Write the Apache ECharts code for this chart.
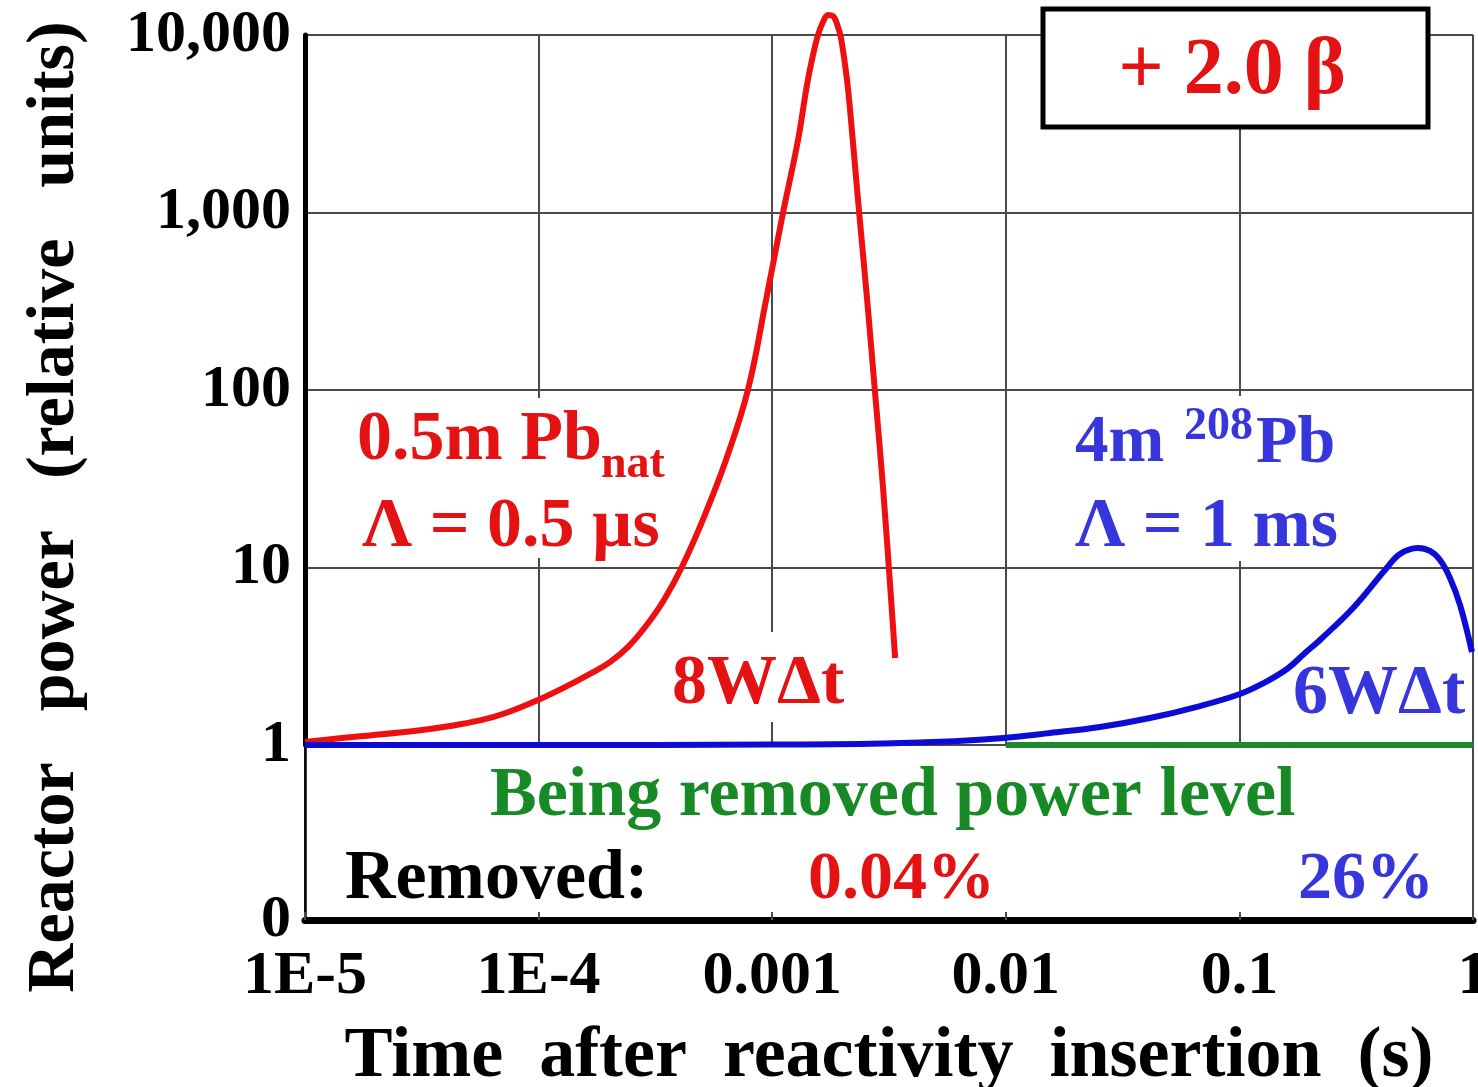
<!DOCTYPE html>
<html>
<head>
<meta charset="utf-8">
<script src="https://cdn.jsdelivr.net/npm/echarts@6/dist/echarts.min.js"></script>
<style>
html,body{margin:0;padding:0;background:#fff;}
#c{width:1478px;height:1087px;}
</style>
</head>
<body>
<div id="c"></div>
<script>
// ---- data ----
const xTickLabels = ['1E-5', '1E-4', '0.001', '0.01', '0.1', '1'];
const yTickLabels = ['0', '1', '10', '100', '1,000', '10,000']; // at 0.1, 1, 10, ... 10000

// 0.5 m Pb_nat, Lambda = 0.5 us
const redTime  = [1e-5, 1.72e-5, 2.93e-5, 4.18e-5, 5.67e-5, 7.18e-5, 1.0e-4, 1.297e-4, 1.69e-4, 2.02e-4, 2.41e-4, 2.88e-4, 3.44e-4, 4.11e-4, 5.11e-4, 6.34e-4, 7.87e-4, 9.41e-4, 1.112e-3, 1.29e-3, 1.409e-3, 1.495e-3, 1.571e-3, 1.650e-3, 1.734e-3, 1.821e-3, 1.894e-3, 1.970e-3, 2.09e-3, 2.174e-3, 2.33e-3, 2.55e-3, 2.75e-3, 2.98e-3, 3.23e-3, 3.36e-3];
const redPower = [1.04, 1.12, 1.20, 1.28, 1.38, 1.51, 1.80, 2.12, 2.55, 2.93, 3.56, 4.68, 6.56, 10.1, 19.3, 40.3, 100, 321, 993, 2560, 5230, 7710, 10000, 11840, 12970, 12790, 11530, 9620, 5580, 3320, 1175, 321, 100, 28.4, 6.56, 3.09];

// 4 m 208Pb, Lambda = 1 ms
const blueTime  = [1e-5, 1e-4, 1e-3, 3e-3, 6e-3, 9.82e-3, 0.01546, 0.0253, 0.0414, 0.0678, 0.1006, 0.1249, 0.1599, 0.1909, 0.2213, 0.3094, 0.4201, 0.4869, 0.5815, 0.6546, 0.7225, 0.797, 0.8797, 0.99];
const bluePower = [1.0, 1.0, 1.005, 1.02, 1.05, 1.095, 1.168, 1.263, 1.419, 1.658, 1.938, 2.207, 2.681, 3.298, 3.905, 5.99, 9.68, 11.91, 12.88, 12.39, 11.02, 8.73, 6.15, 3.34];

// Being removed power level
const greenTime  = [0.01, 1];
const greenPower = [1, 1];

const zip = (a, b) => a.map((v, i) => [v, b[i]]);
const SERIF = '"Liberation Serif", "Times New Roman", serif';
const RED = '#e41212', BLUE_TXT = '#3636dc', GREEN = '#178a25', GRID = '#4a4a4a';

const chart = echarts.init(document.getElementById('c'), null, {renderer: 'canvas'});

function decIdx(v) { return Math.round(Math.log10(v)); }

const option = {
  backgroundColor: '#fff',
  animation: false,
  grid: [
    {left: 305, top: 35, width: 1168, height: 710, show: false, containLabel: false, outerBoundsMode: 'none'},
    {left: 305, top: 745, width: 1168, height: 175, show: true, borderColor: GRID, borderWidth: 2,
     backgroundColor: 'transparent', containLabel: false, outerBoundsMode: 'none'}
  ],
  xAxis: [
    {
      type: 'log', logBase: 10, min: 1e-5, max: 1, gridIndex: 0,
      axisLine: {show: false}, axisTick: {show: false}, axisLabel: {show: false},
      splitLine: {show: true, lineStyle: {color: GRID, width: 2}}
    },
    {
      type: 'log', logBase: 10, min: 1e-5, max: 1, gridIndex: 1,
      axisLine: {show: true, onZero: false, lineStyle: {color: '#000', width: 7}},
      axisTick: {show: true, inside: true, length: 8, lineStyle: {color: GRID, width: 2}},
      splitLine: {show: false},
      axisLabel: {
        show: true, margin: 26, color: '#000',
        fontFamily: SERIF, fontWeight: 'bold', fontSize: 62,
        formatter: v => xTickLabels[decIdx(v) + 5]
      },
      name: 'Time  after  reactivity  insertion  (s)',
      nameLocation: 'middle', nameGap: 101,
      nameTextStyle: {fontFamily: SERIF, fontWeight: 'bold', fontSize: 72, color: '#000'}
    }
  ],
  yAxis: [
    {
      type: 'log', logBase: 10, min: 1, max: 10000, gridIndex: 0,
      axisLine: {show: true, lineStyle: {color: '#000', width: 5}},
      axisTick: {show: false},
      splitLine: {show: true, lineStyle: {color: GRID, width: 2}},
      axisLabel: {
        show: true, margin: 14, color: '#000',
        fontFamily: SERIF, fontWeight: 'bold', fontSize: 60,
        formatter: v => yTickLabels[decIdx(v) + 1]
      }
    },
    {
      type: 'log', logBase: 10, min: 0.1, max: 1, gridIndex: 1,
      axisLine: {show: true, lineStyle: {color: '#000', width: 2.5}},
      axisTick: {show: false},
      splitLine: {show: false},
      axisLabel: {
        show: true, margin: 14, color: '#000',
        fontFamily: SERIF, fontWeight: 'bold', fontSize: 60,
        formatter: v => (decIdx(v) < 0 ? yTickLabels[0] : '')
      }
    }
  ],
  series: [
    {
      name: '0.5m Pb nat', type: 'line', xAxisIndex: 0, yAxisIndex: 0,
      data: zip(redTime, redPower), showSymbol: false, smooth: 0.4, clip: false,
      lineStyle: {color: '#ee1010', width: 6}, z: 3
    },
    {
      name: '4m 208Pb', type: 'line', xAxisIndex: 0, yAxisIndex: 0,
      data: zip(blueTime, bluePower), showSymbol: false, smooth: 0.4, clip: false,
      lineStyle: {color: '#0c0cd6', width: 6}, z: 4
    },
    {
      name: 'Being removed power level', type: 'line', xAxisIndex: 0, yAxisIndex: 0,
      data: zip(greenTime, greenPower), showSymbol: false, clip: false,
      lineStyle: {color: '#1c8a2c', width: 6}, z: 5
    }
  ],
  graphic: [
    // white backgrounds behind annotation blocks
    {type: 'rect', z: 1, shape: {x: 350, y: 398, width: 325, height: 160}, style: {fill: '#fff'}, silent: true},
    {type: 'rect', z: 1, shape: {x: 665, y: 632, width: 185, height: 90}, style: {fill: '#fff'}, silent: true},
    {type: 'rect', z: 1, shape: {x: 1066, y: 396, width: 280, height: 165}, style: {fill: '#fff'}, silent: true},
    {type: 'rect', z: 1, shape: {x: 1290, y: 665, width: 178, height: 56}, style: {fill: '#fff'}, silent: true},
    // Pb_nat label
    {type: 'text', z: 10, x: 357, y: 441, style: {text: '0.5m Pb', font: 'bold 70px ' + SERIF, fill: RED, verticalAlign: 'middle'}},
    {type: 'text', z: 10, x: 601, y: 465, style: {text: 'nat', font: 'bold 46px ' + SERIF, fill: RED, verticalAlign: 'middle'}},
    {type: 'text', z: 10, x: 362, y: 528, style: {text: 'Λ = 0.5 µs', font: 'bold 70px ' + SERIF, fill: RED, verticalAlign: 'middle'}},
    {type: 'text', z: 10, x: 672, y: 685, style: {text: '8WΔt', font: 'bold 70px ' + SERIF, fill: RED, verticalAlign: 'middle'}},
    // 208Pb label
    {type: 'text', z: 10, x: 1075, y: 444, style: {text: '4m', font: 'bold 67px ' + SERIF, fill: BLUE_TXT, verticalAlign: 'middle'}},
    {type: 'text', z: 10, x: 1184, y: 427, style: {text: '208', font: 'bold 46px ' + SERIF, fill: BLUE_TXT, verticalAlign: 'middle'}},
    {type: 'text', z: 10, x: 1256, y: 444, style: {text: 'Pb', font: 'bold 68px ' + SERIF, fill: BLUE_TXT, verticalAlign: 'middle'}},
    {type: 'text', z: 10, x: 1075, y: 528, style: {text: 'Λ = 1 ms', font: 'bold 70px ' + SERIF, fill: BLUE_TXT, verticalAlign: 'middle'}},
    {type: 'text', z: 10, x: 1293, y: 695, style: {text: '6WΔt', font: 'bold 70px ' + SERIF, fill: BLUE_TXT, verticalAlign: 'middle'}},
    // lower strip texts
    {type: 'text', z: 10, x: 490, y: 797, style: {text: 'Being removed power level', font: 'bold 70px ' + SERIF, fill: GREEN, verticalAlign: 'middle'}},
    {type: 'text', z: 10, x: 345, y: 880, style: {text: 'Removed:', font: 'bold 70px ' + SERIF, fill: '#000', verticalAlign: 'middle'}},
    {type: 'text', z: 10, x: 808, y: 880, style: {text: '0.04%', font: 'bold 68px ' + SERIF, fill: RED, verticalAlign: 'middle'}},
    {type: 'text', z: 10, x: 1298, y: 880, style: {text: '26%', font: 'bold 68px ' + SERIF, fill: BLUE_TXT, verticalAlign: 'middle'}},
    // reactivity box
    {type: 'rect', z: 20, shape: {x: 1043, y: 9, width: 385, height: 118}, style: {fill: '#fff', stroke: '#000', lineWidth: 5}},
    {type: 'text', z: 21, x: 1232, y: 72, style: {text: '+ 2.0 β', font: 'bold 80px ' + SERIF, fill: RED, align: 'center', verticalAlign: 'middle'}},
    // y axis title
    {type: 'text', z: 10, x: 55, y: 507, rotation: Math.PI / 2,
     style: {text: 'Reactor   power   (relative   units)', font: 'bold 68px ' + SERIF, fill: '#000', align: 'center', verticalAlign: 'middle'}}
  ]
};
chart.setOption(option);
</script>
</body>
</html>
